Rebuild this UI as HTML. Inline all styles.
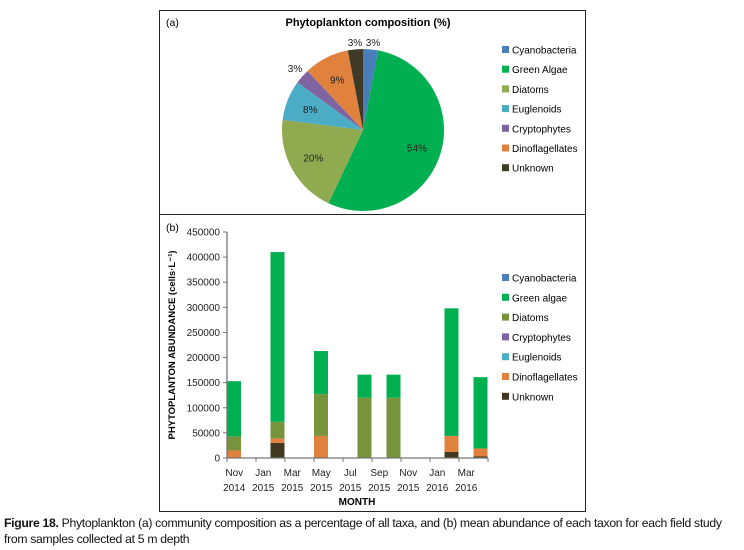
<!DOCTYPE html>
<html><head><meta charset="utf-8"><style>
body{margin:0;background:#fff;width:744px;height:550px;overflow:hidden;font-family:"Liberation Sans",sans-serif}
svg text{font-family:"Liberation Sans",sans-serif}
.cap{position:absolute;left:4px;top:515px;font-size:12.2px;line-height:16px;letter-spacing:-0.3px;color:#111;width:740px}
</style></head><body>
<svg id="fig" width="744" height="512" style="position:absolute;left:0;top:0">
<rect x="159.5" y="10.5" width="426" height="501" fill="none" stroke="#222"/>
<line x1="159" y1="214.5" x2="586" y2="214.5" stroke="#222"/>
<text x="166" y="26" font-size="10.5">(a)</text>
<text x="368" y="26" font-size="11" font-weight="bold" text-anchor="middle">Phytoplankton composition (%)</text>
<g id="pie"></g>
<g id="legA"></g>
<text x="166" y="231" font-size="10.5">(b)</text>
<g id="bars"></g>
<g id="legB"></g>
<text transform="translate(175,345) rotate(-90)" font-size="9.5" font-weight="bold" text-anchor="middle">PHYTOPLANTON ABUNDANCE (cells·L⁻¹)</text>
<text x="357" y="505" font-size="10" font-weight="bold" text-anchor="middle">MONTH</text>
</svg>
<div class="cap"><b>Figure 18.</b> Phytoplankton (a) community composition as a percentage of all taxa, and (b) mean abundance of each taxon for each field study from samples collected at 5 m depth</div>
<script>
const NS="http://www.w3.org/2000/svg";
const pieNames=["Cyanobacteria","Green Algae","Diatoms","Euglenoids","Cryptophytes","Dinoflagellates","Unknown"];
const pieValues=[3,54,20,8,3,9,3];
const pieColors=["#4a7ebb","#00b050","#8faa4f","#4bacc6","#8064a2","#e0823d","#3f3a26"];
const months=["Nov","Dec","Jan","Feb","Mar","Apr","May","Jun","Jul","Aug","Sep","Oct","Nov","Dec","Jan","Feb","Mar","Apr"];
const years=["2014","","2015","","2015","","2015","","2015","","2015","","2015","","2016","","2016",""];
const barNames=["Cyanobacteria","Green algae","Diatoms","Cryptophytes","Euglenoids","Dinoflagellates","Unknown"];
const barColors=["#4a7ebb","#00b050","#77933c","#8064a2","#4bacc6","#e0823d","#40391f"];
const unknownV=[0,0,0,30000,0,0,0,0,0,0,0,0,0,0,0,12000,0,3000];
const dinoV=[15000,0,0,9000,0,0,44000,0,0,0,0,0,0,0,0,32000,0,16000];
const euglV=[0,0,0,0,0,0,0,0,0,0,0,0,0,0,0,0,0,0];
const cryptoV=[0,0,0,0,0,0,0,0,0,0,0,0,0,0,0,0,0,0];
const diatomV=[28000,0,0,33000,0,0,83000,0,0,120000,0,120000,0,0,0,0,0,0];
const greenV=[110000,0,0,338000,0,0,86000,0,0,46000,0,46000,0,0,0,254000,0,142000];
const cyanoV=[0,0,0,0,0,0,0,0,0,0,0,0,0,0,0,0,0,0];
const yTicks=[0,50000,100000,150000,200000,250000,300000,350000,400000,450000];
function mk(tag,at,parent,txt){const e=document.createElementNS(NS,tag);for(const k in at)e.setAttribute(k,at[k]);if(txt!==undefined)e.textContent=txt;parent.appendChild(e);return e;}
const pie=document.getElementById('pie');const cx=363,cy=130,r=81;
const tot=pieValues.reduce((a,b)=>a+b,0);let a0=0;
const labOff=[[10,-88],null,null,null,[-68,-62],null,[-8,-88]];
pieValues.forEach((v,i)=>{const a1=a0+v/tot*2*Math.PI;
 const p=(a)=>[cx+r*Math.sin(a),cy-r*Math.cos(a)];const s=p(a0),e=p(a1);
 const path=mk('path',{d:`M${cx},${cy}L${s[0]},${s[1]}A${r},${r} 0 ${a1-a0>Math.PI?1:0} 1 ${e[0]},${e[1]}Z`,fill:pieColors[i]},pie);
 
 
 const am=(a0+a1)/2;let lx,ly;
 if(labOff[i]){lx=cx+labOff[i][0];ly=cy+labOff[i][1];}else{lx=cx+r*0.7*Math.sin(am);ly=cy-r*0.7*Math.cos(am);}
 const t=mk('text',{x:lx,y:ly+4,'font-size':'10','text-anchor':'middle',fill:'#222'},pie,v+'%');
 
 
 a0=a1;});
const legA=document.getElementById('legA');
pieNames.forEach((n,i)=>{const y=50+i*19.7;
 const s=mk('rect',{x:502,y:y-4,width:7,height:7,fill:pieColors[i]},legA);
 
 
 const t=mk('text',{x:512,y:y+3.5,'font-size':'10'},legA,n);
 
 });
const g=document.getElementById('bars');const x0=227,x1=488,y0=458,yTop=232;
const sw=(x1-x0)/months.length;const Y=v=>y0-(v/450000)*(y0-yTop);
const series=[unknownV,dinoV,euglV,cryptoV,diatomV,greenV,cyanoV];
const sCol=[barColors[6],barColors[5],barColors[4],barColors[3],barColors[2],barColors[1],barColors[0]];
const sName=["unknown","dinoflagellates","euglenoids","cryptophytes","diatoms","green-algae","cyanobacteria"];
months.forEach((m,i)=>{let acc=0;series.forEach((s,k)=>{const v=s[i];if(v>0){
 const b=mk('rect',{x:x0+i*sw,y:Y(acc+v),width:sw-0.5,height:Y(acc)-Y(acc+v),fill:sCol[k]},g);
 
 }
 acc+=v;});});
mk('line',{x1:x0,y1:yTop,x2:x0,y2:y0,stroke:'#777','stroke-width':1.3},g);
mk('line',{x1:x0,y1:y0,x2:x1,y2:y0,stroke:'#777','stroke-width':1.3},g);
yTicks.forEach(v=>{const y=Y(v);mk('line',{x1:x0-4,y1:y,x2:x0,y2:y,stroke:'#777'},g);
 const t=mk('text',{x:x0-7,y:y+3.5,'font-size':'10','text-anchor':'end',fill:'#222'},g,v);
 
 });
for(let i=0;i<=months.length;i+=2){mk('line',{x1:x0+i*sw,y1:y0,x2:x0+i*sw,y2:y0+4,stroke:'#777'},g);}
months.forEach((m,i)=>{if(i%2)return;const cxl=x0+(i+0.5)*sw;
 const t=mk('text',{x:cxl,y:476,'font-size':'10','text-anchor':'middle',fill:'#222'},g,m);
 
 
 const t2=mk('text',{x:cxl,y:491,'font-size':'10','text-anchor':'middle',fill:'#222'},g,years[i]);
 
 });
const legB=document.getElementById('legB');
barNames.forEach((n,i)=>{const y=278+i*19.8;
 const s=mk('rect',{x:502,y:y-4,width:7,height:7,fill:barColors[i]},legB);
 
 
 const t=mk('text',{x:512,y:y+3.5,'font-size':'10'},legB,n);
 
 });
</script>
</body></html>
